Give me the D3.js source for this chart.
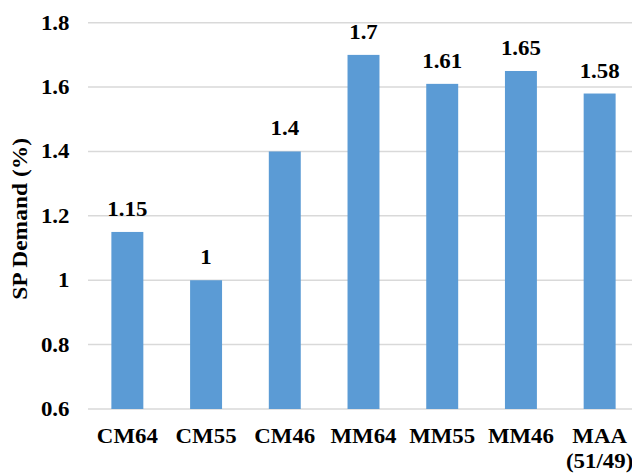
<!DOCTYPE html>
<html>
<head>
<meta charset="utf-8">
<script src="https://cdn.jsdelivr.net/npm/d3@7"></script>
<style>
  html, body { margin: 0; padding: 0; background: #fff; }
</style>
</head>
<body>
<svg id="chart" width="632" height="474"></svg>
<script>
// Categories (label lines) and SP demand values in percent
const categories = ["CM64", "CM55", "CM46", "MM64", "MM55", "MM46", "MAA (51/49)"];
const categoryLines = [["CM64"], ["CM55"], ["CM46"], ["MM64"], ["MM55"], ["MM46"], ["MAA", "(51/49)"]];
const values = [1.15, 1.00, 1.40, 1.70, 1.61, 1.65, 1.58];
const valueLabels = ["1.15", "1", "1.4", "1.7", "1.61", "1.65", "1.58"];
const yTicks = [0.6, 0.8, 1.0, 1.2, 1.4, 1.6, 1.8];
const yTickLabels = ["0.6", "0.8", "1", "1.2", "1.4", "1.6", "1.8"];
const yTitle = "SP Demand (%)";

const FONT = "'Liberation Serif', Tinos, 'Times New Roman', serif";
const STRETCH = 1.09;   // slightly wide lettering
const W = 632, H = 474;
const svg = d3.select("#chart")
  .attr("font-family", FONT)
  .attr("font-weight", "bold");

const plot = { left: 88, right: 639, top: 22.7, bottom: 409 };

const x = d3.scaleBand()
  .domain(categories)
  .range([plot.left, plot.right])
  .paddingInner(0.594)
  .paddingOuter(0.297);

const y = d3.scaleLinear()
  .domain([0.6, 1.8])
  .range([plot.bottom, plot.top]);

const cx = c => x(c) + x.bandwidth() / 2;

// Horizontal gridlines
svg.append("g")
  .selectAll("line")
  .data(yTicks)
  .join("line")
  .attr("x1", plot.left)
  .attr("x2", W)
  .attr("y1", d => y(d))
  .attr("y2", d => y(d))
  .attr("stroke", "#d9d9d9")
  .attr("stroke-width", 1.5);

// Y tick labels
svg.append("g")
  .selectAll("text")
  .data(yTicks)
  .join("text")
  .attr("transform", d => `translate(69.5, ${y(d) + 7}) scale(${STRETCH}, 1)`)
  .attr("text-anchor", "end")
  .attr("font-size", 21)
  .text((d, i) => yTickLabels[i]);

// Bars
svg.append("g")
  .selectAll("rect")
  .data(values)
  .join("rect")
  .attr("x", (d, i) => x(categories[i]))
  .attr("width", x.bandwidth())
  .attr("y", d => y(d))
  .attr("height", d => y(0.6) - y(d))
  .attr("fill", "#5b9bd5");

// Value labels above bars
svg.append("g")
  .selectAll("text")
  .data(values)
  .join("text")
  .attr("transform", (d, i) => `translate(${cx(categories[i])}, ${y(d) - 16}) scale(${STRETCH}, 1)`)
  .attr("text-anchor", "middle")
  .attr("font-size", 21)
  .text((d, i) => valueLabels[i]);

// Category labels
const cat = svg.append("g")
  .selectAll("text")
  .data(categories)
  .join("text")
  .attr("transform", d => `translate(${cx(d)}, 443) scale(${STRETCH}, 1)`)
  .attr("text-anchor", "middle")
  .attr("font-size", 21);
cat.each(function(d, i) {
  const t = d3.select(this);
  categoryLines[i].forEach((line, j) => {
    t.append("tspan")
      .attr("x", 0)
      .attr("dy", j === 0 ? 0 : 25)
      .text(line);
  });
});

// Y axis title
svg.append("text")
  .attr("transform", `translate(27, ${(plot.top + plot.bottom) / 2 + 3}) rotate(-90) scale(1.12, 1)`)
  .attr("text-anchor", "middle")
  .attr("font-size", 21)
  .text(yTitle);
</script>
</body>
</html>
